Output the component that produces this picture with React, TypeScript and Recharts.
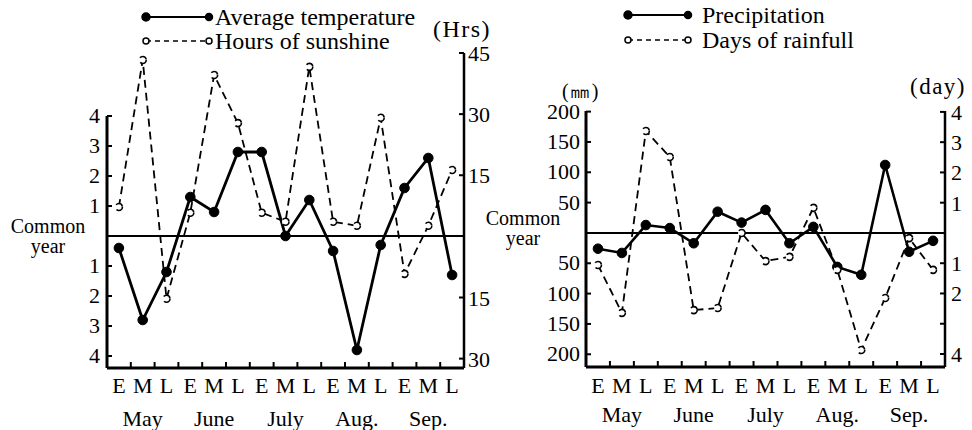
import { LineChart, Line, XAxis, YAxis, ReferenceLine, Legend } from 'recharts';

const FONT = '"Liberation Serif", "Times New Roman", serif';

// ten-day periods (early / middle / late) for May..Sep.
const PERIODS = ['E', 'M', 'L', 'E', 'M', 'L', 'E', 'M', 'L', 'E', 'M', 'L', 'E', 'M', 'L'];
const MONTHS = ['May', 'June', 'July', 'Aug.', 'Sep.'];

// deviations from the common year
const temperature = [-0.4, -2.8, -1.2, 1.3, 0.8, 2.8, 2.8, 0, 1.2, -0.5, -3.8, -0.3, 1.6, 2.6, -1.3];
const sunshine = [7.2, 43.3, -15.3, 5.8, 39.6, 27.8, 5.8, 3.6, 41.6, 3.6, 2.6, 29.1, -9.2, 2.6, 16.3];
const precipitation = [-26, -33, 13, 8, -17, 35, 17, 38, -17, 10, -56, -69, 112, -31, -13];
const rainDays = [-1.06, -2.64, 3.37, 2.51, -2.55, -2.48, 0, -0.93, -0.79, 0.83, -1.22, -3.87, -2.15, -0.17, -1.22];

const TEMP_TICKS = [4, 3, 2, 1, -1, -2, -3, -4];
const HRS_TICKS = [45, 30, 15, -15, -30];
const MM_TICKS = [200, 150, 100, 50, -50, -100, -150, -200];
const DAY_TICKS = [4, 3, 2, 1, -1, -2, -3, -4];

const X_DOMAIN = [-0.5, 14.5];
const TEMP_DOMAIN = [-4.4, 6.1];
const HRS_DOMAIN = [-32.3, 45];
const MM_DOMAIN = [-221, 201];
const DAY_DOMAIN = [-4.43, 4.03];

const X_TICKS = PERIODS.flatMap((_, i) => (i < PERIODS.length - 1 ? [i, i + 0.5] : [i]));

const leftData = PERIODS.map((p, i) => ({ idx: i, period: p, temperature: temperature[i], sunshine: sunshine[i] }));
const rightData = PERIODS.map((p, i) => ({ idx: i, period: p, precipitation: precipitation[i], rainDays: rainDays[i] }));

const absLabel = (v: number) => String(Math.abs(v));
const dayLabel = (v: number) => (v === -3 ? '' : String(Math.abs(v)));

// integer ticks carry the E/M/L label (and month under the middle one),
// half ticks are the small inward marks between periods
const xTick = (periodDy: number, monthDy: number) => (props: any) => {
  const { x, y, payload } = props;
  const v = payload.value;
  if (!Number.isInteger(v)) {
    return <line x1={x} y1={y} x2={x} y2={y - 6} stroke="#000" strokeWidth={2} />;
  }
  return (
    <g>
      <text x={x} y={y + periodDy} textAnchor="middle" fontSize={22} fontFamily={FONT} fill="#000">{PERIODS[v]}</text>
      {v % 3 === 1 && (
        <text x={x} y={y + monthDy} textAnchor="middle" fontSize={22} fontFamily={FONT} fill="#000">{MONTHS[(v - 1) / 3]}</text>
      )}
    </g>
  );
};

// left axis ticks point inwards; the top tick also draws the spine
// from spineTop down to the bottom of the domain
const leftTick = (fmt: (v: number) => string, gap: number, domain: number[], topTick: number, spineTop: number, plotH: number) =>
  (props: any) => {
    const { x, y, payload } = props;
    const v = payload.value;
    const h = Number(props.height) || plotH;
    const k = h / (domain[1] - domain[0]);
    return (
      <g>
        {v === topTick && (
          <line x1={x} y1={y - (spineTop - v) * k} x2={x} y2={y + (v - domain[0]) * k} stroke="#000" strokeWidth={3} />
        )}
        <line x1={x} y1={y} x2={x + 5} y2={y} stroke="#000" strokeWidth={2} />
        <text x={x - gap} y={y + 7} textAnchor="end" fontSize={22} fontFamily={FONT} fill="#000">{fmt(v)}</text>
      </g>
    );
  };

const rightTick = (fmt: (v: number) => string, gap: number, dy = 7) => (props: any) => {
  const { x, y, payload } = props;
  return (
    <g>
      <line x1={x - 5} y1={y} x2={x} y2={y} stroke="#000" strokeWidth={2} />
      <text x={x + gap} y={y + dy} textAnchor="start" fontSize={22} fontFamily={FONT} fill="#000">{fmt(payload.value)}</text>
    </g>
  );
};

const commonYear = (dx: number, dy: number) => (props: any) => {
  const vb = props.viewBox || {};
  const cx = vb.x + dx;
  return (
    <text x={cx} y={vb.y + dy} textAnchor="middle" fontSize={20} fontFamily={FONT} fill="#000">
      <tspan x={cx}>Common</tspan>
      <tspan x={cx} dy={20}>year</tspan>
    </text>
  );
};

const unitLabel = (text: string, dx: number, dy: number, size = 24, right = false) => (props: any) => {
  const vb = props.viewBox || {};
  const ax = right ? vb.x : vb.x + vb.width;
  return (
    <text x={ax + dx} y={vb.y + dy} textAnchor="middle" fontSize={size} fontFamily={FONT} letterSpacing={1.5} fill="#000">{text}</text>
  );
};

const DASHED: Record<string, boolean> = { sunshine: true, rainDays: true };
const LEGEND_ORDER = ['temperature', 'sunshine', 'precipitation', 'rainDays'];

const seriesLegend = (x0: number, x1: number, textX: number, y0: number, gap: number) => (props: any) => {
  const items = [...(props.payload || [])].sort(
    (a: any, b: any) => LEGEND_ORDER.indexOf(a.dataKey) - LEGEND_ORDER.indexOf(b.dataKey)
  );
  return (
    <svg width={480} height={60} style={{ display: 'block', overflow: 'visible' }}>
      {items.map((it: any, i: number) => {
        const y = y0 + i * gap;
        const dashed = DASHED[it.dataKey];
        return (
          <g key={it.dataKey}>
            <line x1={x0} y1={y} x2={x1} y2={y} stroke="#000" strokeWidth={dashed ? 1.6 : 2.2} strokeDasharray={dashed ? '5 4' : undefined} />
            <circle cx={x0} cy={y} r={dashed ? 3 : 4} fill={dashed ? '#fff' : '#000'} stroke="#000" strokeWidth={1.5} />
            <circle cx={x1} cy={y} r={dashed ? 3 : 3.5} fill={dashed ? '#fff' : '#000'} stroke="#000" strokeWidth={1.5} />
            <text x={textX} y={y + 8} fontSize={24} fontFamily={FONT} fill="#000">{it.value}</text>
          </g>
        );
      })}
    </svg>
  );
};

const solidDot = { r: 4.8, fill: '#000', stroke: '#000', strokeWidth: 1 };
const hollowDot = { r: 3.5, fill: '#fff', stroke: '#000', strokeWidth: 1.6 };

function ClimateLeft() {
  return (
    <LineChart width={500} height={430} data={leftData} margin={{ top: 53, right: 10, bottom: 0, left: 0 }}>
      <XAxis type="number" dataKey="idx" domain={X_DOMAIN} ticks={X_TICKS} interval={0} allowDataOverflow
        tickSize={0} tickMargin={0} tickLine={false} height={62} axisLine={{ stroke: '#000', strokeWidth: 3 }} tick={xTick(25, 58)} />
      <YAxis yAxisId="temp" orientation="left" width={107} domain={TEMP_DOMAIN} ticks={TEMP_TICKS} interval={0} allowDataOverflow
        tickSize={0} tickMargin={0} tickLine={false} axisLine={false}
        tick={leftTick(absLabel, 7, TEMP_DOMAIN, TEMP_TICKS[0], TEMP_TICKS[0], 315)} />
      <YAxis yAxisId="hrs" orientation="right" width={26} domain={HRS_DOMAIN} ticks={HRS_TICKS} interval={0} allowDataOverflow
        tickSize={0} tickMargin={0} tickLine={false} axisLine={{ stroke: '#000', strokeWidth: 2.5 }} tick={rightTick(absLabel, 4, 8)}
        label={unitLabel('(Hrs)', -2, -16, 24, true)} />
      <ReferenceLine yAxisId="temp" y={0} stroke="#000" strokeWidth={2} label={commonYear(-59, -3)} />
      <Line yAxisId="temp" type="linear" dataKey="temperature" name="Average temperature" stroke="#000" strokeWidth={2.8}
        dot={solidDot} activeDot={false} isAnimationActive={false} />
      <Line yAxisId="hrs" type="linear" dataKey="sunshine" name="Hours of sunshine" stroke="#000" strokeWidth={1.8}
        strokeDasharray="8 5" dot={hollowDot} activeDot={false} isAnimationActive={false} />
      <Legend layout="vertical" align="center" verticalAlign="middle" wrapperStyle={{ left: 0, top: 0, width: 480, height: 60 }}
        content={seriesLegend(146, 209, 215, 17, 24)} />
    </LineChart>
  );
}

function ClimateRight() {
  return (
    <LineChart width={496} height={430} data={rightData} margin={{ top: 111, right: 0, bottom: 0, left: 0 }}>
      <XAxis type="number" dataKey="idx" domain={X_DOMAIN} ticks={X_TICKS} interval={0} allowDataOverflow
        tickSize={0} tickMargin={0} tickLine={false} height={63} axisLine={{ stroke: '#000', strokeWidth: 3 }} tick={xTick(26, 55)} />
      <YAxis yAxisId="mm" orientation="left" width={110} domain={MM_DOMAIN} ticks={MM_TICKS} interval={0} allowDataOverflow
        tickSize={0} tickMargin={0} tickLine={false} axisLine={false}
        tick={leftTick(absLabel, 6, MM_DOMAIN, MM_TICKS[0], MM_DOMAIN[1], 256)}
        label={unitLabel('(㎜)', -5, -13, 20)} />
      <YAxis yAxisId="day" orientation="right" width={27} domain={DAY_DOMAIN} ticks={DAY_TICKS} interval={0} allowDataOverflow
        tickSize={0} tickMargin={0} tickLine={false} axisLine={{ stroke: '#000', strokeWidth: 2.5 }} tick={rightTick(dayLabel, 6, 8)}
        label={unitLabel('(day)', -7, -17, 23, true)} />
      <ReferenceLine yAxisId="mm" y={0} stroke="#000" strokeWidth={2} label={commonYear(-63, -8)} />
      <Line yAxisId="mm" type="linear" dataKey="precipitation" name="Precipitation" stroke="#000" strokeWidth={2.6}
        dot={solidDot} activeDot={false} isAnimationActive={false} />
      <Line yAxisId="day" type="linear" dataKey="rainDays" name="Days of rainfull" stroke="#000" strokeWidth={1.8}
        strokeDasharray="8 5" dot={hollowDot} activeDot={false} isAnimationActive={false} />
      <Legend layout="vertical" align="center" verticalAlign="middle" wrapperStyle={{ left: 0, top: 0, width: 480, height: 60 }}
        content={seriesLegend(152, 212, 226, 15, 25)} />
    </LineChart>
  );
}

export default function App() {
  return (
    <div style={{ position: 'absolute', left: 0, top: 0, width: 972, height: 430, background: '#fff', fontFamily: FONT }}>
      <div style={{ position: 'absolute', left: 0, top: 0 }}>
        <ClimateLeft />
      </div>
      <div style={{ position: 'absolute', left: 476, top: 0 }}>
        <ClimateRight />
      </div>
    </div>
  );
}
